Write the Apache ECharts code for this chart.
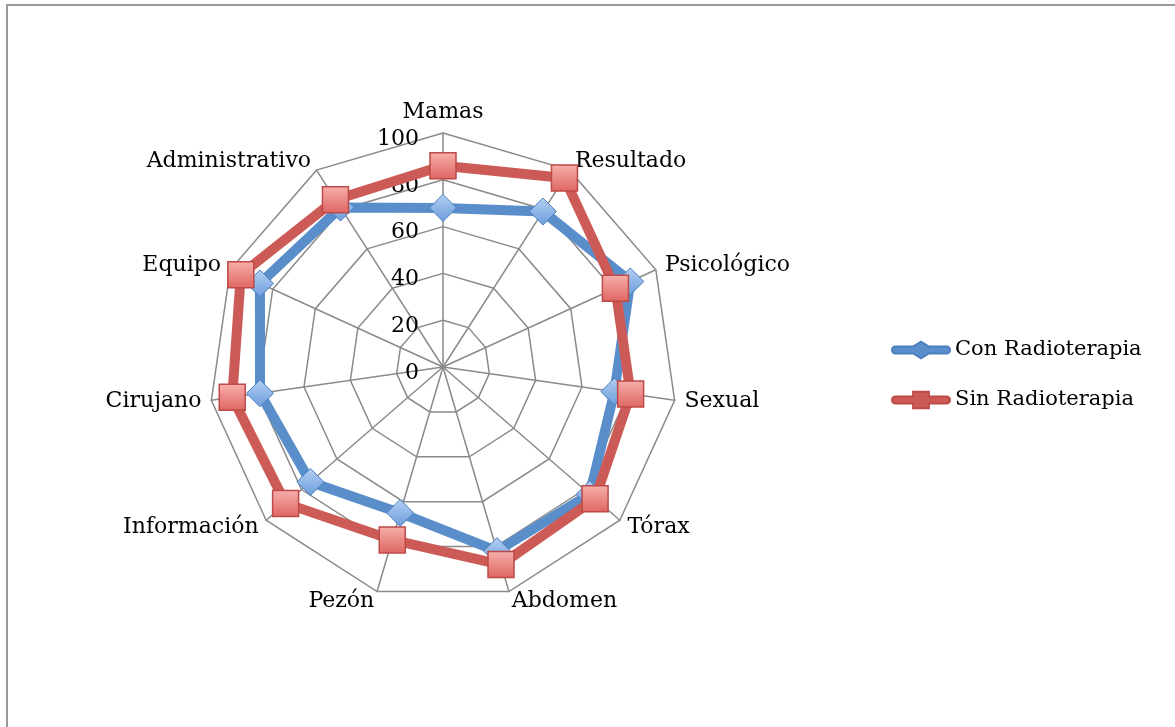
<!DOCTYPE html>
<html>
<head>
<meta charset="utf-8">
<script src="https://cdn.jsdelivr.net/npm/echarts@6/dist/echarts.min.js"></script>
<style>
    html, body { margin: 0; padding: 0; background: #fff; }
    #frame {
        position: absolute; left: 6px; top: 4px; width: 1300px; height: 900px;
        border-left: 2px solid #9a9a9a; border-top: 2px solid #9a9a9a;
    }
    #chart { position: absolute; left: 0; top: 0; width: 1175px; height: 727px; }
</style>
</head>
<body>
<div id="frame"></div>
<div id="chart"></div>
<script>
// --- Data (clockwise from the top) ---
const categories = ['Mamas', 'Resultado', 'Psicológico', 'Sexual', 'Tórax', 'Abdomen',
    'Pezón', 'Información', 'Cirujano', 'Equipo', 'Administrativo'];
const conRadio = [68, 79, 88, 74, 83, 82, 65, 75, 79, 86, 81];
const sinRadio = [86, 96, 81, 81, 86, 88, 77, 89, 91, 95, 85];
const seriesNames = ['Con Radioterapia', 'Sin Radioterapia'];
const maxValue = 100;

// ECharts lays indicators out counter-clockwise, so walk the lists backwards after the first
const order = [0];
for (let i = categories.length - 1; i > 0; i--) order.push(i);

const FONT = 'DejaVu Serif';
const BLUE = '#5a8ecb';
const RED = '#cc5b57';

const indicator = order.map((i, k) => {
    const ind = { name: categories[i], max: maxValue, min: 0 };
    if (k === 0) ind.axisLabel = { show: true };
    return ind;
});

const diamondFill = new echarts.graphic.LinearGradient(0, 0, 0, 1, [
    { offset: 0, color: '#b3d0f4' }, { offset: 1, color: '#6d9cdb' }
]);
const squareFill = new echarts.graphic.LinearGradient(0, 0, 0, 1, [
    { offset: 0, color: '#f7b0ad' }, { offset: 1, color: '#de6561' }
]);

const chart = echarts.init(document.getElementById('chart'), null, { renderer: 'canvas' });
chart.setOption({
    animation: false,
    backgroundColor: 'transparent',
    legend: {
        orient: 'vertical',
        left: 886,
        top: 334,
        itemWidth: 58,
        itemHeight: 17,
        itemGap: 28,
        textStyle: { fontFamily: FONT, fontSize: 21, color: '#000', lineHeight: 22 },
        data: [
            { name: seriesNames[0], icon: 'path://M4,5 L22,5 L30,0 L38,5 L56,5 A3.5,3.5 0 0 1 56,12 L38,12 L30,17 L22,12 L4,12 A3.5,3.5 0 0 1 4,5 Z',
              itemStyle: { color: BLUE } },
            { name: seriesNames[1], icon: 'path://M4,5 L22,5 L22,0 L38,0 L38,5 L56,5 A3.5,3.5 0 0 1 56,12 L38,12 L38,17 L22,17 L22,12 L4,12 A3.5,3.5 0 0 1 4,5 Z',
              itemStyle: { color: RED } }
        ]
    },
    radar: {
        center: [443, 367],
        radius: 234,
        startAngle: 90,
        shape: 'polygon',
        splitNumber: 5,
        indicator: indicator,
        axisName: { color: '#000', fontFamily: FONT, fontSize: 22 },
        nameGap: 10,
        axisLine: { lineStyle: { color: '#8a8a8a', width: 1.5 } },
        splitLine: { lineStyle: { color: '#8a8a8a', width: 1.5 } },
        splitArea: { show: false },
        axisTick: { show: false },
        axisLabel: { show: false, color: '#000', fontFamily: FONT, fontSize: 22, margin: 24,
            verticalAlign: 'top', lineHeight: 12 }
    },
    series: [{
        type: 'radar',
        data: [
            {
                name: seriesNames[0],
                value: order.map(i => conRadio[i]),
                symbol: 'diamond',
                symbolSize: 27,
                lineStyle: { color: BLUE, width: 10 },
                itemStyle: { color: diamondFill, borderColor: '#4a7fc0', borderWidth: 1 }
            },
            {
                name: seriesNames[1],
                value: order.map(i => sinRadio[i]),
                symbol: 'rect',
                symbolSize: 26,
                lineStyle: { color: RED, width: 10 },
                itemStyle: { color: squareFill, borderColor: '#bd4a46', borderWidth: 1.5 }
            }
        ]
    }]
});
</script>
</body>
</html>
